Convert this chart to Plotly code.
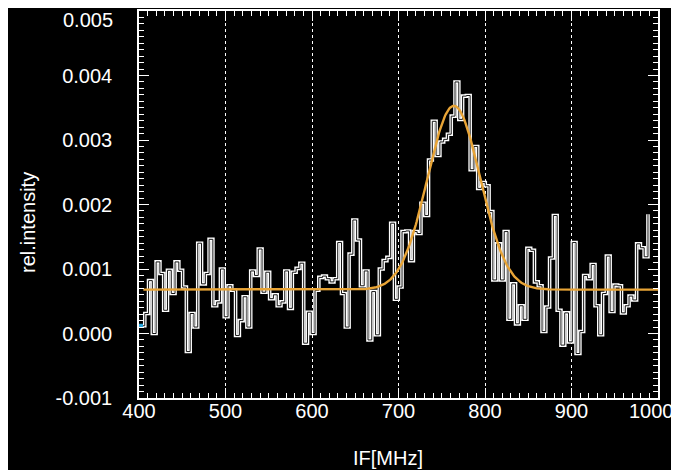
import numpy as np
import plotly.graph_objects as go

# ---- data ----
# relative intensity per IF channel, in units of 1e-3
intensity_milli = [
    0.12, 0.31, 0.82, 0.00, 1.11, 0.93, 0.36, 0.98, 0.62, 1.11, 0.98, 0.72, -0.28, 0.31,
    0.10, 1.40, 0.77, 0.93, 1.46, 0.43, 0.49, 1.00, 0.26, 0.74, 0.67, -0.03, 0.20,
    0.57, 0.10, 0.97, 0.90, 1.31, 0.64, 0.95, 0.54, 0.60, 0.43, 0.49, 0.97, 0.39, 0.95,
    1.01, 1.09, -0.15, 0.33, 0.00, 0.67, 0.87, 0.89, 0.85, 0.80, 0.85, 1.41, 0.62, 0.10,
    1.23, 1.76, 1.45, 0.74, 0.97, -0.10, 0.65, -0.02, 1.00, 1.13, 1.18, 1.71, 0.53, 0.72,
    1.58, 1.59, 1.13, 1.58, 1.55, 2.02, 1.83, 2.69, 3.29, 2.76, 2.97, 3.01, 3.09,
    3.37, 3.90, 3.32, 3.68, 3.69, 2.54, 2.90, 2.25, 2.34, 2.29, 1.89, 0.83, 1.39, 0.83,
    1.58, 0.22, 0.77, 0.15, 0.43, 0.22, 1.32, 1.29, 0.80, 0.74, 0.03, 0.41, 1.17, 1.83,
    0.36, -0.18, 0.32, -0.13, 1.41, -0.31, 0.03, 0.90, 0.85, 1.07, 0.43, -0.02, 0.62,
    1.20, 0.34, 0.75, 0.74, 0.32, 0.43, 0.58, 0.52, 1.39, 1.33, 1.19, 1.85,
]
IF_START = 402.3   # MHz, first channel
IF_END = 988.4     # MHz, last channel

# Gaussian fit parameters
fit_base = 0.00068
fit_amp = 0.00285
fit_center = 764.0
fit_sigma = 30.5

x_ticks = [400, 500, 600, 700, 800, 900, 1000]
y_ticks = [-0.001, 0.000, 0.001, 0.002, 0.003, 0.004, 0.005]

# ---- build ----
intensity = np.array(intensity_milli) * 1e-3
freq = np.linspace(IF_START, IF_END, len(intensity))

fx = np.linspace(405, 1000, 600)
fy = fit_base + fit_amp * np.exp(-(fx - fit_center) ** 2 / (2 * fit_sigma ** 2))

FONT = "Liberation Sans, Arial, Helvetica, sans-serif"
ORANGE = "#E8A436"
TICKFONT = dict(family=FONT, size=20, color="white")

fig = go.Figure()
fig.add_trace(go.Scatter(x=freq, y=intensity, mode="lines", line_shape="hv",
                         line=dict(color="white", width=3.6), hoverinfo="skip"))
fig.add_trace(go.Scatter(x=freq, y=intensity, mode="lines", line_shape="hv",
                         line=dict(color="#151515", width=1.0), hoverinfo="skip"))
fig.add_trace(go.Scatter(x=fx, y=fy, mode="lines",
                         line=dict(color=ORANGE, width=2.4), hoverinfo="skip"))
fig.add_trace(go.Scatter(x=freq[:1], y=intensity[:1], mode="markers",
                         marker=dict(color="#2aa8e0", size=4, symbol="square"),
                         hoverinfo="skip"))

axis_common = dict(
    showline=True, linecolor="white", linewidth=1.5, mirror="allticks",
    ticks="inside", ticklen=10, tickwidth=1, tickcolor="white",
    zeroline=False, automargin=False, tickfont=TICKFONT,
)

# end labels (1000, 0.005) are placed as annotations, as they sit inset in the reference
fig.update_xaxes(
    range=[400, 1000], tickvals=x_ticks,
    ticktext=[str(v) if v != x_ticks[-1] else "" for v in x_ticks],
    showgrid=True, gridcolor="white", griddash="dot", gridwidth=1,
    minor=dict(dtick=10, tick0=400, ticks="inside", ticklen=5, tickcolor="white",
               tickwidth=1, showgrid=False),
    ticklabelstandoff=-6,
    **axis_common,
)
fig.update_yaxes(
    range=[-0.001, 0.005], tickvals=y_ticks,
    ticktext=[f"{v:.3f}" if v != y_ticks[-1] else "" for v in y_ticks],
    showgrid=False,
    minor=dict(dtick=0.0001, tick0=0, ticks="inside", ticklen=5, tickcolor="white",
               tickwidth=1, showgrid=False),
    ticklabelstandoff=21,
    **axis_common,
)

fig.add_annotation(text=str(x_ticks[-1]), xref="paper", yref="paper", x=0.9884, y=-0.0336,
                   xanchor="center", yanchor="middle", showarrow=False, font=TICKFONT)
fig.add_annotation(text=f"{y_ticks[-1]:.3f}", xref="paper", yref="paper", x=-0.0462, y=0.9767,
                   xanchor="right", yanchor="middle", showarrow=False, font=TICKFONT)

fig.add_annotation(text="IF[MHz]", xref="paper", yref="paper", x=0.4798, y=-0.155,
                   xanchor="center", yanchor="middle", showarrow=False,
                   font=dict(family=FONT, size=20, color="white"))
fig.add_annotation(text="rel.intensity", xref="paper", yref="paper", x=-0.2139, y=0.4548,
                   xanchor="center", yanchor="middle", showarrow=False, textangle=-90,
                   font=dict(family=FONT, size=20, color="white"))

# the page body adds an 8 px offset, so the figure is sized 8 px smaller
fig.update_layout(
    width=671, height=462,
    margin=dict(l=131, r=21, t=3, b=72, autoexpand=False),
    paper_bgcolor="black", plot_bgcolor="black",
    showlegend=False,
    font=dict(family=FONT, color="white"),
)

fig.write_html("out.html")
